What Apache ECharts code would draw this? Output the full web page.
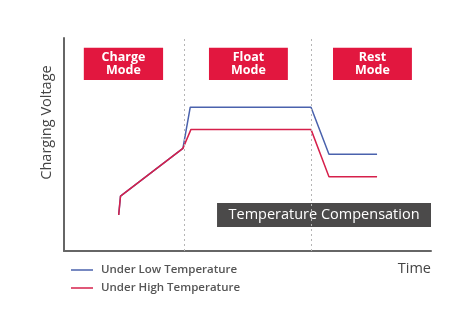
<!DOCTYPE html>
<html><head><meta charset="utf-8">
<script src="https://cdn.jsdelivr.net/npm/echarts@6/dist/echarts.min.js"></script>
<style>html,body{margin:0;padding:0;background:#fff}#c{width:474px;height:333px}</style>
</head><body><div id="c"></div>
<script>
var seriesNames = ['Under Low Temperature', 'Under High Temperature'];
var lowTimes = [14.9, 15.4, 32.4, 34.4, 67.3, 72.2, 85.3];
var lowValues = [16.9, 25.8, 48.2, 67.5, 67.5, 45.4, 45.4];
var highTimes = [14.9, 15.4, 32.4, 34.6, 67.3, 72.2, 85.3];
var highValues = [16.9, 25.8, 48.2, 57.1, 57.1, 34.9, 34.9];
var phaseBoundaries = [32.7, 67.3];
var modeLabels = ['Charge\nMode', 'Float\nMode', 'Rest\nMode'];
var modeStarts = [5.4, 39.5, 73.3];
var modeEnds = [27.0, 61.0, 94.8];
var modeTop = 95.4, modeBottom = 80.3;
var compLabel = 'Temperature Compensation';
var compX = [41.7, 100], compY = [11.3, 22.5];

function zip(a, b) { return a.map(function (v, i) { return [v, b[i]]; }); }

var chart = echarts.init(document.getElementById('c'));
var font = '"Open Sans", Lato, sans-serif';
chart.setOption({
  animation: false,
  textStyle: { fontFamily: font },
  grid: { left: 64, right: 43, top: 38, bottom: 82 },
  legend: {
    orient: 'vertical', left: 66, top: 259, itemWidth: 22, itemHeight: 12, itemGap: 6,
    icon: 'path://M0,0L22,0L22,1.5L0,1.5Z',
    textStyle: { fontFamily: font, fontSize: 11.5, fontWeight: 600, color: '#555', padding: [0, 0, 0, 3] },
    data: seriesNames
  },
  xAxis: {
    type: 'value', min: 0, max: 100,
    name: 'Time', nameLocation: 'end', nameGap: 0,
    nameTextStyle: { fontSize: 14.5, color: '#444', align: 'right', verticalAlign: 'top', padding: [10, 0, 0, 0] },
    axisLine: { show: true, lineStyle: { color: '#666', width: 2 } },
    axisTick: { show: false }, axisLabel: { show: false }, splitLine: { show: false }
  },
  yAxis: {
    type: 'value', min: 0, max: 100,
    name: 'Charging Voltage', nameLocation: 'middle', nameGap: 10,
    nameTextStyle: { fontSize: 14.5, color: '#444', padding: [0, 0, 0, 44] },
    axisLine: { show: true, lineStyle: { color: '#666', width: 2 } },
    axisTick: { show: false }, axisLabel: { show: false }, splitLine: { show: false }
  },
  series: [
    {
      name: seriesNames[0], type: 'line', symbol: 'none', color: '#4a62ad',
      lineStyle: { width: 1.5, color: '#4a62ad' },
      data: zip(lowTimes, lowValues),
      markLine: {
        silent: true, symbol: 'none', label: { show: false },
        lineStyle: { type: [2, 3], color: '#b5b5b5', width: 1 },
        data: phaseBoundaries.map(function (x) { return { xAxis: x }; })
      },
      markArea: {
        silent: true,
        itemStyle: { color: '#e2173f', opacity: 1 },
        label: { show: true, position: 'inside', color: '#fff', fontSize: 12.5, fontWeight: 'bold', lineHeight: 12.5, fontFamily: font },
        data: modeLabels.map(function (t, i) {
          return [{ name: t, xAxis: modeStarts[i], yAxis: modeTop }, { xAxis: modeEnds[i], yAxis: modeBottom }];
        }).concat([[
          { name: compLabel, xAxis: compX[0], yAxis: compY[1],
            itemStyle: { color: '#4b4a4a' }, label: { fontSize: 14.5, fontWeight: 500 } },
          { xAxis: compX[1], yAxis: compY[0] }
        ]])
      }
    },
    {
      name: seriesNames[1], type: 'line', symbol: 'none', color: '#d6204b',
      lineStyle: { width: 1.5, color: '#d6204b' },
      data: zip(highTimes, highValues)
    }
  ]
});
</script></body></html>
